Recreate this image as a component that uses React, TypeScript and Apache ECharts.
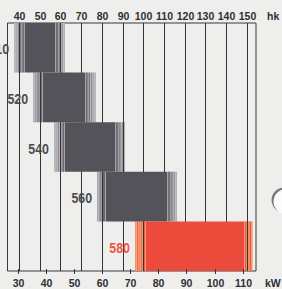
import React, { useEffect, useRef } from 'react';
import * as echarts from 'echarts';

// ---- data ----
const models = ['510', '520', '540', '560', '580'];
const rangeLowHk = [37.6, 46.8, 56.9, 77.7, 96.0];
const coreLowHk = [42.9, 51.6, 62.2, 82.0, 101.2];
const coreHighHk = [57.4, 71.9, 86.4, 111.5, 148.8];
const rangeHighHk = [62.2, 77.2, 91.2, 116.3, 152.7];
const hkTicks = [40, 50, 60, 70, 80, 90, 100, 110, 120, 130, 140, 150];
const kwTicks = [30, 40, 50, 60, 70, 80, 90, 100, 110];
const highlighted = '580';

// ---- axis extents ----
const HK_MIN = 34.44;
const HK_MAX = 154.49;
const KW_MIN = 26.43;
const KW_MAX = 114.73;

// ---- styles ----
const FONT = '"Liberation Sans", Arial, sans-serif';
const PAPER = '#eeeeec';
const INK = '#2f2f33';
const GRAY_CORE = '#535359';
const GRAY_LABEL = '#4c4c50';
const RED_CORE = '#ec4a3b';
const RED_LABEL = '#f0533d';
const STRIPE_POS = [0.0, 0.15, 0.3, 0.46, 0.62, 0.8];

function fringe(xCore: number, xOuter: number, top: number, h: number, red: boolean) {
  const children: any[] = [];
  const w = xOuter - xCore;
  const x0 = Math.min(xCore, xOuter);
  children.push({
    type: 'rect',
    shape: { x: x0, y: top, width: Math.abs(w), height: h },
    style: { fill: red ? '#f7b98f' : '#d5d5d8' },
  });
  STRIPE_POS.forEach((p, k) => {
    const t = k / (STRIPE_POS.length - 1);
    const x = xCore + w * p + (w > 0 ? 0.6 : -1.8);
    let fill;
    if (red) {
      fill = k % 2 === 0 ? '#ee5d42' : '#f28a5e';
    } else {
      const c0 = [88, 88, 94];
      const c1 = [165, 165, 170];
      const c = c0.map((v, j) => Math.round(v + (c1[j] - v) * t));
      fill = `rgb(${c[0]},${c[1]},${c[2]})`;
    }
    children.push({
      type: 'rect',
      shape: { x, y: top, width: 1.2, height: h },
      style: { fill },
    });
  });
  return children;
}

export default function App() {
  const ref = useRef<HTMLDivElement>(null);

  useEffect(() => {
    if (!ref.current) return;
    const chart = echarts.init(ref.current, null, { renderer: 'svg' });

    const barData = models.map((m, i) => [rangeLowHk[i], coreLowHk[i], coreHighHk[i], rangeHighHk[i], i]);

    const option: any = {
      animation: false,
      backgroundColor: PAPER,
      grid: {
        left: 7.5,
        right: 26,
        top: 23,
        bottom: 18,
        show: true,
        borderColor: '#38383c',
        borderWidth: 1,
        backgroundColor: 'transparent',
      },
      xAxis: [
        { type: 'value', min: HK_MIN, max: HK_MAX, show: false, splitLine: { show: false } },
        { type: 'value', min: KW_MIN, max: KW_MAX, show: false, splitLine: { show: false } },
      ],
      yAxis: [
        { type: 'category', data: models, inverse: true, show: false, boundaryGap: true },
      ],
      series: [
        {
          type: 'custom',
          name: 'fringe',
          xAxisIndex: 0,
          yAxisIndex: 0,
          z: 2,
          data: barData,
          encode: { x: [0, 1, 2, 3], y: 4 },
          renderItem: (params: any, api: any) => {
            const i = api.value(4);
            const yc = api.coord([api.value(0), i])[1];
            const h = Math.abs(api.size([0, 1])[1]);
            const top = yc - h / 2;
            const xa = api.coord([api.value(0), i])[0];
            const xb = api.coord([api.value(1), i])[0];
            const xc = api.coord([api.value(2), i])[0];
            const xd = api.coord([api.value(3), i])[0];
            const red = models[params.dataIndex] === highlighted;
            return {
              type: 'group',
              children: [...fringe(xb, xa, top, h, red), ...fringe(xc, xd, top, h, red)],
            };
          },
        },
        {
          type: 'custom',
          name: 'hkGrid',
          xAxisIndex: 0,
          yAxisIndex: 0,
          z: 3,
          data: hkTicks.map((v) => [v, 0]),
          encode: { x: 0, y: 1 },
          renderItem: (params: any, api: any) => {
            const cs = params.coordSys;
            const x = Math.round(api.coord([api.value(0), 0])[0]) + 0.5;
            return {
              type: 'group',
              children: [
                {
                  type: 'line',
                  shape: { x1: x, y1: cs.y, x2: x, y2: cs.y + cs.height },
                  style: { stroke: '#343438', lineWidth: 1 },
                },
                {
                  type: 'text',
                  x,
                  y: cs.y - 7,
                  style: {
                    text: String(api.value(0)),
                    align: 'center',
                    verticalAlign: 'middle',
                    fill: INK,
                    font: `bold 10.5px ${FONT}`,
                  },
                },
              ],
            };
          },
        },
        {
          type: 'custom',
          name: 'core',
          xAxisIndex: 0,
          yAxisIndex: 0,
          z: 4,
          data: barData,
          encode: { x: [0, 1, 2, 3], y: 4 },
          renderItem: (params: any, api: any) => {
            const i = api.value(4);
            const yc = api.coord([api.value(0), i])[1];
            const h = Math.abs(api.size([0, 1])[1]);
            const top = yc - h / 2;
            const xa = api.coord([api.value(0), i])[0];
            const xb = api.coord([api.value(1), i])[0];
            const xc = api.coord([api.value(2), i])[0];
            const red = models[params.dataIndex] === highlighted;
            return {
              type: 'group',
              children: [
                {
                  type: 'rect',
                  shape: { x: xb, y: top, width: xc - xb, height: h },
                  style: { fill: red ? RED_CORE : GRAY_CORE },
                },
                {
                  type: 'text',
                  x: xa - 5,
                  y: yc + 1,
                  scaleX: 0.8,
                  style: {
                    text: models[params.dataIndex],
                    align: 'right',
                    verticalAlign: 'middle',
                    fill: red ? RED_LABEL : GRAY_LABEL,
                    font: `bold 15.5px ${FONT}`,
                  },
                },
              ],
            };
          },
        },
        {
          type: 'custom',
          name: 'kwAxis',
          xAxisIndex: 1,
          yAxisIndex: 0,
          z: 5,
          data: kwTicks.map((v) => [v, 0]),
          encode: { x: 0, y: 1 },
          renderItem: (params: any, api: any) => {
            const cs = params.coordSys;
            const x = Math.round(api.coord([api.value(0), 0])[0]) + 0.5;
            const b = cs.y + cs.height;
            return {
              type: 'group',
              children: [
                {
                  type: 'line',
                  shape: { x1: x, y1: b - 2, x2: x, y2: b + 3 },
                  style: { stroke: '#343438', lineWidth: 1 },
                },
                {
                  type: 'text',
                  x,
                  y: b + 11.5,
                  style: {
                    text: String(api.value(0)),
                    align: 'center',
                    verticalAlign: 'middle',
                    fill: INK,
                    font: `bold 10.5px ${FONT}`,
                  },
                },
              ],
            };
          },
        },
      ],
      graphic: [
        {
          type: 'text',
          left: 267,
          top: 10,
          style: { text: 'hk', fill: INK, font: `bold 10.5px ${FONT}` },
        },
        {
          type: 'text',
          left: 265,
          top: 277,
          style: { text: 'kW', fill: INK, font: `bold 10.5px ${FONT}` },
        },
        {
          type: 'circle',
          z: 10,
          shape: { cx: 284, cy: 200, r: 12.5 },
          style: {
            fill: '#7a7a7a',
          },
        },
        {
          type: 'circle',
          z: 11,
          shape: { cx: 286, cy: 201.5, r: 12.5 },
          style: {
            fill: '#fbfbfb',
          },
        },
      ],
    };

    chart.setOption(option);
    return () => chart.dispose();
  }, []);

  return (
    <div
      ref={ref}
      style={{ position: 'fixed', left: 0, top: 0, width: 282, height: 289, background: PAPER }}
    />
  );
}
